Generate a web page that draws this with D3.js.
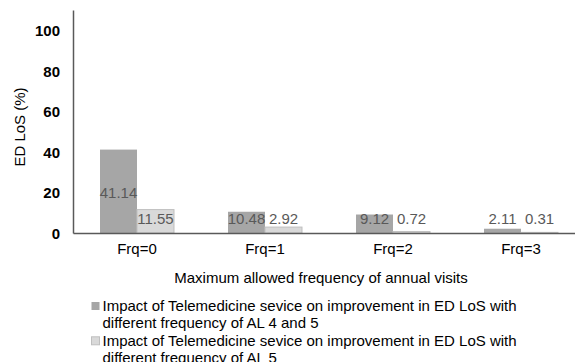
<!DOCTYPE html>
<html>
<head>
<meta charset="utf-8">
<script src="https://cdn.jsdelivr.net/npm/d3@7"></script>
<style>
  html, body { margin: 0; padding: 0; background: #fff; }
  svg { display: block; font-family: "Liberation Sans", Arial, sans-serif; }
</style>
</head>
<body>
<svg id="chart" width="575" height="362"></svg>
<script>
const categories = ["Frq=0", "Frq=1", "Frq=2", "Frq=3"];
const seriesNames = [
  "Impact of Telemedicine sevice on improvement in ED LoS with different frequency of AL 4 and 5",
  "Impact of Telemedicine sevice on improvement in ED LoS with different frequency of AL 5"
];
const valuesAL45 = [41.14, 10.48, 9.12, 2.11];
const valuesAL5 = [11.55, 2.92, 0.72, 0.31];
const yTicks = [0, 20, 40, 60, 80, 100];

const legendLines = [
  ["Impact of Telemedicine sevice on improvement in ED LoS with", "different frequency of AL 4 and 5"],
  ["Impact of Telemedicine sevice on improvement in ED LoS with", "different frequency of AL 5"]
];

const fills = ["#a6a6a6", "#d9d9d9"];
const strokes = ["none", "#bfbfbf"];
const FONT = "Liberation Sans, Arial, sans-serif";

const svg = d3.select("#chart");
const plotLeft = 73, plotRight = 585, plotTop = 10, plotBottom = 233;

const x0 = d3.scaleBand().domain(categories).range([plotLeft, plotRight]).paddingInner(0).paddingOuter(0);
const x1 = d3.scaleBand().domain([0, 1]).range([0, x0.bandwidth()]).paddingInner(0).paddingOuter(0.73);
const y = d3.scaleLinear().domain([0, 110]).range([plotBottom, plotTop]);

const rows = categories.map((c, i) => ({ cat: c, vals: [valuesAL45[i], valuesAL5[i]] }));

// bars
const groups = svg.append("g").selectAll("g").data(rows).join("g")
  .attr("transform", d => `translate(${x0(d.cat)},0)`);

groups.selectAll("rect").data(d => d.vals.map((v, k) => ({ v, k }))).join("rect")
  .attr("x", d => x1(d.k))
  .attr("y", d => y(d.v))
  .attr("width", x1.bandwidth())
  .attr("height", d => y(0) - y(d.v))
  .attr("fill", d => fills[d.k])
  .attr("stroke", d => strokes[d.k])
  .attr("stroke-width", 1);

// value labels (centred in the bar, lifted above the axis for short bars)
groups.selectAll("text").data(d => d.vals.map((v, k) => ({ v, k }))).join("text")
  .attr("x", d => x1(d.k) + x1.bandwidth() / 2)
  .attr("y", d => Math.min((y(d.v) + y(0)) / 2 + 1.5, y(0) - 14.5))
  .attr("text-anchor", "middle")
  .attr("dominant-baseline", "central")
  .attr("font-size", 15)
  .attr("fill", "#595959")
  .text(d => d.v.toFixed(2));

// y axis
const yAxis = svg.append("g").attr("transform", `translate(${plotLeft},0)`)
  .call(d3.axisLeft(y).tickValues(yTicks).tickSize(0).tickPadding(13));
yAxis.select(".domain").attr("stroke", "#595959").attr("stroke-width", 1.5);
yAxis.selectAll("text")
  .attr("font-size", 15).attr("font-weight", "bold").attr("fill", "#000")
  .attr("font-family", FONT)
  .attr("dy", null).attr("dominant-baseline", "central");

// x axis
const xAxis = svg.append("g").attr("transform", `translate(0,${plotBottom})`)
  .call(d3.axisBottom(x0).tickSize(0));
xAxis.select(".domain").attr("stroke", "#595959").attr("stroke-width", 1.5);
xAxis.selectAll("text")
  .attr("font-size", 15).attr("fill", "#000")
  .attr("font-family", FONT)
  .attr("y", 15).attr("dy", null).attr("dominant-baseline", "central");

// axis titles
svg.append("text")
  .attr("transform", `translate(19,127) rotate(-90)`)
  .attr("text-anchor", "middle")
  .attr("dominant-baseline", "central")
  .attr("font-size", 15)
  .attr("fill", "#000")
  .text("ED LoS (%)");

svg.append("text")
  .attr("x", 321)
  .attr("y", 277)
  .attr("text-anchor", "middle")
  .attr("dominant-baseline", "central")
  .attr("font-size", 15)
  .attr("fill", "#000")
  .text("Maximum allowed frequency of annual visits");

// legend
const legend = svg.append("g");
seriesNames.forEach((name, k) => {
  const y0 = 305.5 + k * 34.8;
  legend.append("rect")
    .attr("x", 91.5).attr("y", y0 - 3.5)
    .attr("width", 8).attr("height", 8)
    .attr("fill", fills[k]).attr("stroke", strokes[k]);
  legendLines[k].forEach((line, j) => {
    legend.append("text")
      .attr("x", 102.5)
      .attr("y", y0 + j * 17.3)
      .attr("dominant-baseline", "central")
      .attr("font-size", 15)
      .attr("fill", "#000")
      .text(line);
  });
});
</script>
</body>
</html>
